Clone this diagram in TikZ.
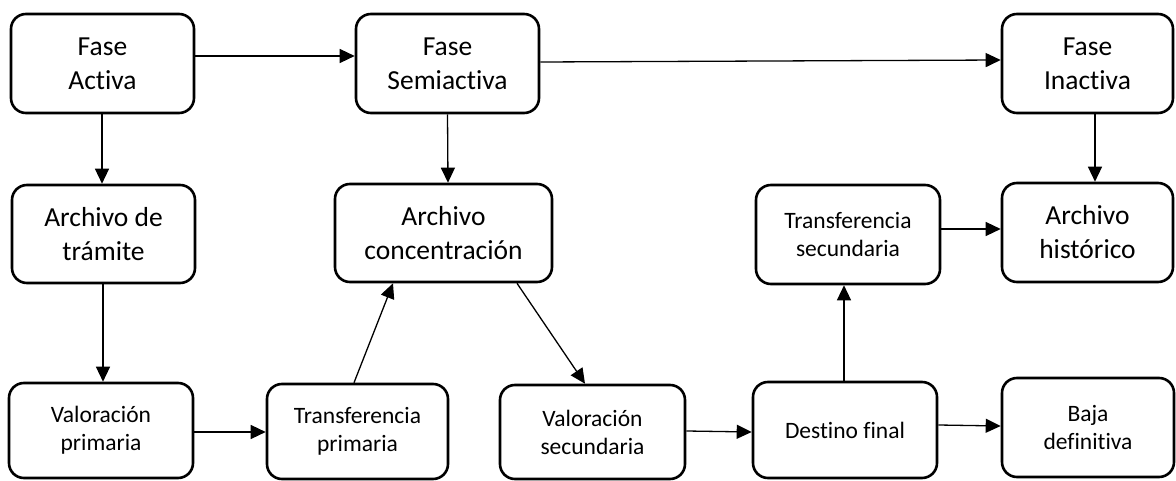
\documentclass[tikz,border=0pt]{standalone}
\usepackage{fontspec}
\setmainfont{Carlito}[Ligatures={NoCommon}]
\usetikzlibrary{arrows.meta}
\tikzset{
  box/.style={draw=black, line width=2.6pt, rounded corners=15pt, inner sep=0pt, align=center, text=black},
  bigtxt/.style={font=\fontsize{27.5}{34}\selectfont},
  smalltxt/.style={font=\fontsize{23.5}{28}\selectfont},
  arr/.style={line width=1.3pt, draw=black, -{Triangle[length=15pt,width=14pt]}}
}
\begin{document}
\begin{tikzpicture}[x=1pt,y=-1pt]
\useasboundingbox (0,0) rectangle (1176,481);
% top row
\node[box,bigtxt,minimum width=183pt,minimum height=99pt] (FA) at (102.5,63.5) {Fase\\Activa};
\node[box,bigtxt,minimum width=183pt,minimum height=99pt] (FS) at (447.5,63.5) {Fase\\Semiactiva};
\node[box,bigtxt,minimum width=171pt,minimum height=99pt] (FI) at (1087.5,63.5) {Fase\\Inactiva};
% middle row
\node[box,bigtxt,minimum width=183pt,minimum height=98pt] (AT) at (103.5,234) {Archivo de\\trámite};
\node[box,bigtxt,minimum width=217pt,minimum height=98pt] (AC) at (443.5,233) {Archivo\\concentración};
\node[box,smalltxt,minimum width=184pt,minimum height=99pt] (TS) at (848,234.5) {Transferencia\\secundaria};
\node[box,bigtxt,minimum width=171pt,minimum height=99pt] (AH) at (1087.5,232.5) {Archivo\\histórico};
% bottom row
\node[box,smalltxt,minimum width=184pt,minimum height=95pt] (VP) at (101,430.5) {Valoración\\primaria};
\node[box,smalltxt,minimum width=181pt,minimum height=95pt] (TP) at (357.5,431.5) {Transferencia\\primaria};
\node[box,smalltxt,minimum width=185pt,minimum height=94pt] (VS) at (592.5,432) {Valoración\\secundaria};
\node[box,smalltxt,minimum width=184pt,minimum height=96pt] (DF) at (845,430) {Destino final};
\node[box,smalltxt,minimum width=172pt,minimum height=99pt] (BD) at (1088,427.5) {Baja\\definitiva};
% connectors
\draw[arr] ([yshift=7.5pt]FA.east) -- ([yshift=7.5pt]FS.west);
\draw[arr] ([yshift=1.5pt]FS.east) -- ([yshift=3.5pt]FI.west);
\draw[arr] ([xshift=-0.5pt]FA.south) -- ([xshift=-1.5pt]AT.north);
\draw[arr] (FS.south) -- ([xshift=4.5pt]AC.north);
\draw[arr] ([xshift=7.5pt]FI.south) -- ([xshift=7.5pt]AH.north);
\draw[arr] ([xshift=-0.5pt]AT.south) -- ([xshift=2pt]VP.north);
\draw[arr] ([yshift=-1.5pt]VP.east) -- ([yshift=-0.5pt]TP.west);
\draw[arr] ([xshift=-3.5pt]TP.north) -- ([xshift=-50.5pt]AC.south);
\draw[arr] ([xshift=73.5pt]AC.south) -- ([xshift=-7.5pt]VS.north);
\draw[arr] ([yshift=1pt]VS.east) -- ([yshift=-2pt]DF.west);
\draw[arr] ([xshift=-1pt]DF.north) -- ([xshift=-4pt]TS.south);
\draw[arr] ([yshift=5.5pt]TS.east) -- ([yshift=3.5pt]AH.west);
\draw[arr] ([yshift=5pt]DF.east) -- ([yshift=1.5pt]BD.west);
\end{tikzpicture}
\end{document}
